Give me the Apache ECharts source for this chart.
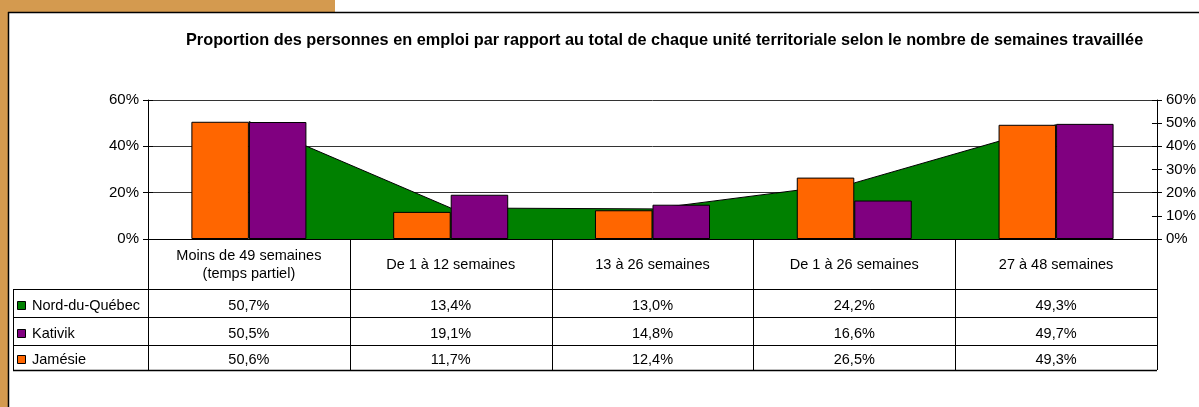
<!doctype html>
<meta charset="utf-8">
<title>Proportion des personnes en emploi</title>
<style>
	html, body { margin: 0; padding: 0; background: #fff; }
	#chart { width: 1199px; height: 407px; }
</style>
<div id="chart"></div>
<script src="https://cdn.jsdelivr.net/npm/echarts@6/dist/echarts.min.js"></script>
<script>
	const categories = ['Moins de 49 semaines\n(temps partiel)', 'De 1 à 12 semaines', '13 à 26 semaines', 'De 1 à 26 semaines', '27 à 48 semaines'];
	const nordDuQuebec = [50.7, 13.4, 13.0, 24.2, 49.3];
	const kativik = [50.5, 19.1, 14.8, 16.6, 49.7];
	const jamesie = [50.6, 11.7, 12.4, 26.5, 49.3];
	const leftTicks = [0, 20, 40, 60];
	const rightTicks = [0, 10, 20, 30, 40, 50, 60];

	const FONT = '"Liberation Sans", Arial, sans-serif';
	const FS = 14.5;
	const fmt = v => v.toFixed(1).replace('.', ',') + '%';

	var chart = echarts.init(document.getElementById('chart'));
	// tick marks cross the axis line in the original: an extra tick-only axis on each side draws the inner half
	const tickAxis = (pos, interval, inside) => ({
		type: 'value', position: pos, min: 0, max: 60, interval: interval,
		axisLine: { show: !inside, lineStyle: { color: '#000' } },
		axisTick: { show: true, inside: inside, length: 5, lineStyle: { color: '#000' } },
		axisLabel: inside ? { show: false } : { formatter: '{value}%', margin: 9, color: '#000', fontFamily: FONT, fontSize: 15 },
		splitLine: { show: false }
	});
	const leftAxis = tickAxis('left', leftTicks[1] - leftTicks[0], false);
	leftAxis.min = leftTicks[0]; leftAxis.max = leftTicks[leftTicks.length - 1];
	leftAxis.splitLine = { show: true, lineStyle: { color: '#333' } };
	const rightAxis = tickAxis('right', rightTicks[1] - rightTicks[0], false);
	rightAxis.min = rightTicks[0]; rightAxis.max = rightTicks[rightTicks.length - 1];

	const option = {
		animation: false,
		title: {
			text: 'Proportion des personnes en emploi par rapport au total de chaque unité territoriale selon le nombre de semaines travaillée',
			left: 181, top: 28,
			textStyle: { fontFamily: FONT, fontSize: 16.3, fontWeight: 'bold', color: '#000' }
		},
		grid: { left: 148, right: 42, top: 100, height: 139 },
		xAxis: {
			type: 'category',
			data: categories,
			axisLine: { lineStyle: { color: '#000' } },
			axisTick: { show: false },
			axisLabel: {
				interval: 0, margin: 26, verticalAlign: 'middle', lineHeight: 18,
				color: '#000', fontFamily: FONT, fontSize: FS
			}
		},
		yAxis: [leftAxis, rightAxis, tickAxis('left', 20, true), tickAxis('right', 10, true)],
		series: [{
			name: 'Nord-du-Québec', type: 'line', yAxisIndex: 1, z: 1,
			data: nordDuQuebec, symbol: 'none',
			lineStyle: { color: '#000', width: 1 },
			itemStyle: { color: '#008000' },
			areaStyle: { color: '#008000', opacity: 1 }
		}, {
			name: 'Jamésie', type: 'bar', z: 3, data: jamesie,
			barGap: 0, barCategoryGap: '43%',
			itemStyle: { color: '#FF6600', borderColor: '#000', borderWidth: 1 }
		}, {
			name: 'Kativik', type: 'bar', z: 3, data: kativik,
			itemStyle: { color: '#800080', borderColor: '#000', borderWidth: 1 }
		}]
	};
	chart.setOption(option);

	// data table under the plot, built from the axis positions
	const rows = [
		{ name: 'Nord-du-Québec', color: '#008000', values: nordDuQuebec },
		{ name: 'Kativik', color: '#800080', values: kativik },
		{ name: 'Jamésie', color: '#FF6600', values: jamesie }
	];
	const cx = categories.map((c, i) => chart.convertToPixel({ xAxisIndex: 0 }, i));
	const colW = cx[1] - cx[0];
	const tLeft = cx[0] - colW / 2, tRight = cx[cx.length - 1] + colW / 2;
	const y0 = chart.convertToPixel({ yAxisIndex: 0 }, 0);
	const rowY = [y0 + 50, y0 + 78, y0 + 106, y0 + 131];
	const legLeft = 13;
	const g = [];
	const line = (x1, y1, x2, y2, w) => g.push({
		type: 'line', silent: true, z: 10,
		shape: { x1: x1, y1: y1, x2: x2, y2: y2 },
		style: { stroke: '#000', lineWidth: w || 1 }
	});
	const text = (x, y, s, align) => g.push({
		type: 'text', silent: true, z: 10, x: x, y: y,
		style: { text: s, fill: '#000', font: FS + 'px ' + FONT, align: align, textAlign: align, verticalAlign: 'middle', textVerticalAlign: 'middle' }
	});
	// frame
	g.push({ type: 'rect', silent: true, shape: { x: 0, y: 0, width: 8, height: 407 }, style: { fill: '#D49A4F' } });
	g.push({ type: 'rect', silent: true, shape: { x: 0, y: 0, width: 335, height: 12 }, style: { fill: '#D49A4F' } });
	line(8.5, 12, 8.5, 407, 1.5);
	line(8, 12.5, 1199, 12.5, 1.5);
	// vertical lines
	for (let i = 0; i <= cx.length; i++) {
		const x = Math.round(tLeft + i * colW) + 0.5;
		line(x, y0, x, rowY[3]);
	}
	line(legLeft + 0.5, rowY[0], legLeft + 0.5, rowY[3]);
	rowY.forEach((y, k) => line(legLeft, Math.round(y) + 0.5, tRight, Math.round(y) + 0.5, k === 3 ? 1.5 : 1));
	rows.forEach((r, k) => {
		const yc = (rowY[k] + rowY[k + 1]) / 2 + 2.5;
		g.push({ type: 'rect', silent: true, z: 10, shape: { x: 17.5, y: Math.round(yc) - 4.5, width: 8, height: 8 }, style: { fill: r.color, stroke: '#000', lineWidth: 1 } });
		text(32, yc, r.name, 'left');
		r.values.forEach((v, i) => text(cx[i], yc, fmt(v), 'center'));
	});
	chart.setOption({ graphic: { elements: g } });
</script>
